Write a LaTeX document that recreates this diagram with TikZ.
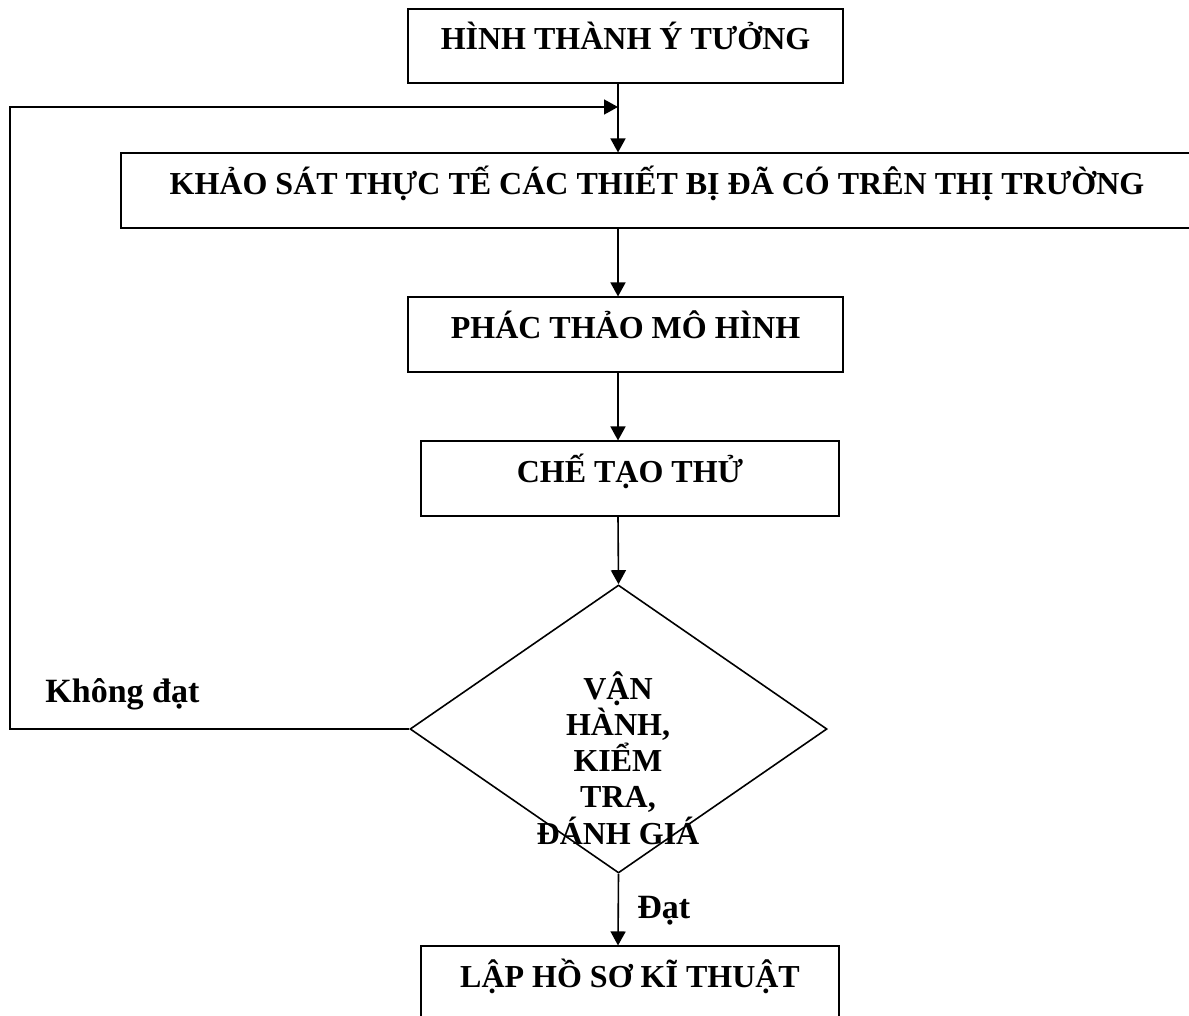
\documentclass[tikz,border=0pt]{standalone}
\usepackage{fontspec}
\setmainfont{Liberation Serif}
\usetikzlibrary{arrows.meta,shapes.geometric}

\begin{document}
\begin{tikzpicture}[x=0.5pt,y=-0.5pt,
  box/.style={draw, line width=0.8pt, inner sep=0pt, text height=20.5pt, text depth=16.75pt,
    font=\fontsize{16pt}{18.4pt}\selectfont\bfseries},
  lbl/.style={inner sep=0pt, font=\fontsize{17pt}{20pt}\selectfont\bfseries},
  flow/.style={line width=0.8pt, -{Triangle[length=7pt,width=7.5pt]}}]
\useasboundingbox (0,0) rectangle (1189,1016);

\coordinate (spine) at (618,0);
\coordinate (back) at (10,107);
\coordinate (merge) at (618,107);

\node[box, minimum width=217.5pt] (idea) at (625.5,46) {HÌNH THÀNH Ý TƯỞNG};
\node[box, minimum width=536pt] (survey) at (657,190.5) {KHẢO SÁT THỰC TẾ CÁC THIẾT BỊ ĐÃ CÓ TRÊN THỊ TRƯỜNG};
\node[box, minimum width=217.5pt] (sketch) at (625.5,334.5) {PHÁC THẢO MÔ HÌNH};
\node[box, minimum width=209pt] (proto) at (630,478.5) {CHẾ TẠO THỬ};
\node[draw, diamond, line width=0.8pt, inner sep=0pt,
  minimum width=208.5pt, minimum height=144pt] (check) at (618.5,729) {};
\node[inner sep=0pt, align=center, font=\fontsize{16pt}{18.1pt}\selectfont\bfseries]
  (checktxt) at (618,758) {VẬN\\HÀNH,\\KIỂM\\TRA,\\ĐÁNH GIÁ};
\node[box, minimum width=209pt] (docs) at (630,983.5) {LẬP HỒ SƠ KĨ THUẬT};

\node[lbl, anchor=base west] (fail) at (45,702) {Không đạt};
\node[lbl, anchor=base west] (pass) at (637,918) {Đạt};

% main chain
\draw[flow] (idea.south -| spine) -- (survey.north -| spine);
\draw[flow] (survey.south -| spine) -- (sketch.north -| spine);
\draw[flow] (sketch.south -| spine) -- (proto.north -| spine);
\draw[flow] (proto.south -| spine) -- (check.north);
\draw[flow] (check.south) -- (docs.north -| spine);

% loop back when the test fails
\draw[flow] (check.west) -| (back) -- (merge);
\end{tikzpicture}
\end{document}
